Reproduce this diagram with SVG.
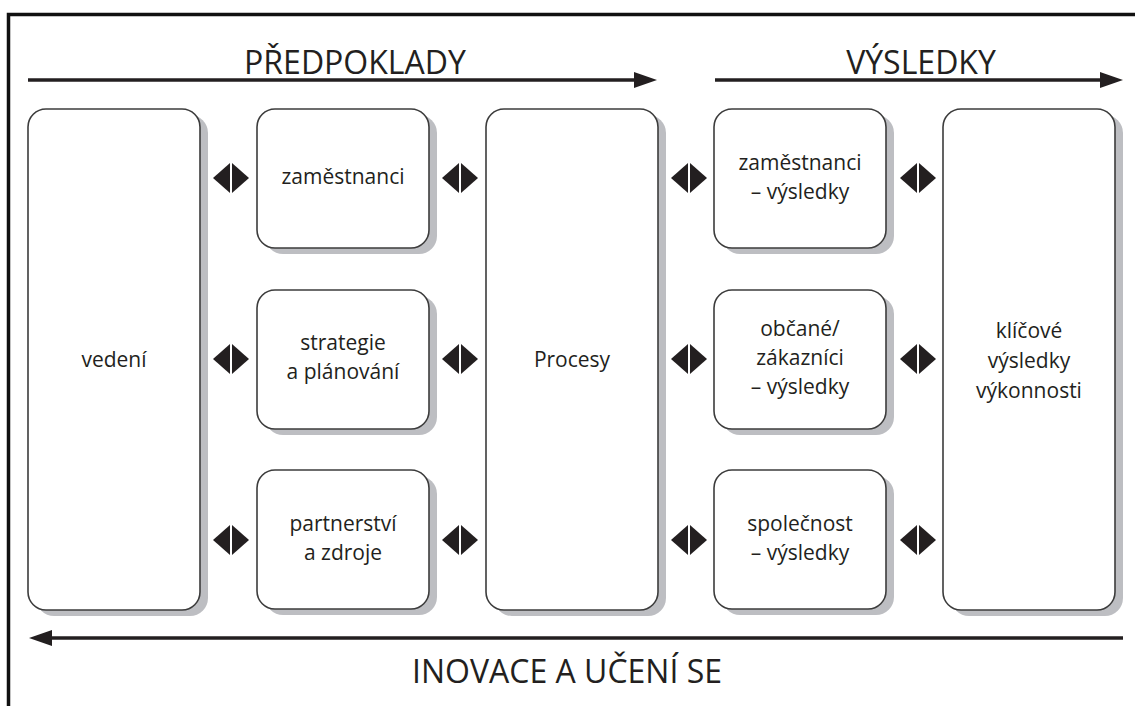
<svg xmlns="http://www.w3.org/2000/svg" width="1135" height="706" viewBox="0 0 1135 706">
<defs>
<style>
.frame{fill:none;stroke:#111;stroke-width:3.5}
.shadow{fill:#bdbec2}
.box{fill:#fff;stroke:#3c3c3c;stroke-width:1.6}
.lbl{font-family:"Open Sans","Noto Sans",sans-serif;font-size:21px;fill:#231f20;text-anchor:middle}
.hdr{font-family:"Open Sans","Noto Sans",sans-serif;font-size:32px;fill:#231f20;text-anchor:middle}
.line{stroke:#231f20;stroke-width:3.5;fill:none}
.head{fill:#231f20}
.dia{fill:#231f20}
</style>
<g id="d">
<polygon points="-18,0 -1,-15 -1,15"/>
<polygon points="1,-15 18,0 1,15"/>
</g>
</defs>
<rect width="1135" height="706" fill="#fff"/>
<path class="frame" d="M8.5,706 V14.5 H1135"/>

<g id="headers">
<text class="hdr" x="355" y="74">PŘEDPOKLADY</text>
<text class="hdr" x="921" y="74">VÝSLEDKY</text>
<text class="hdr" x="567" y="683">INOVACE A UČENÍ SE</text>
</g>

<g id="connectors">
<line class="line" x1="28" y1="80" x2="638" y2="80"/>
<polygon class="head" points="634,72 657,80 634,88"/>
<line class="line" x1="715" y1="80" x2="1103" y2="80"/>
<polygon class="head" points="1100,72 1123,80 1100,88"/>
<line class="line" x1="48" y1="638" x2="1123" y2="638"/>
<polygon class="head" points="52,630 29,638 52,646"/>
<g class="dia">
<use href="#d" x="231" y="178"/><use href="#d" x="231" y="359"/><use href="#d" x="231" y="540"/>
<use href="#d" x="460" y="178"/><use href="#d" x="460" y="359"/><use href="#d" x="460" y="540"/>
<use href="#d" x="689" y="178"/><use href="#d" x="689" y="359"/><use href="#d" x="689" y="540"/>
<use href="#d" x="918" y="178"/><use href="#d" x="918" y="359"/><use href="#d" x="918" y="540"/>
</g>
</g>

<g id="vedeni">
<rect class="shadow" x="36" y="115" width="172" height="501" rx="18"/>
<rect class="box" x="28" y="109" width="172" height="501" rx="18"/>
<text class="lbl" x="114" y="367">vedení</text>
</g>

<g id="zamestnanci">
<rect class="shadow" x="265" y="115" width="172" height="139" rx="18"/>
<rect class="box" x="257" y="109" width="172" height="139" rx="18"/>
<text class="lbl" x="343" y="184">zaměstnanci</text>
</g>

<g id="strategie">
<rect class="shadow" x="265" y="296" width="172" height="139" rx="18"/>
<rect class="box" x="257" y="290" width="172" height="139" rx="18"/>
<text class="lbl" x="343" y="350">strategie</text>
<text class="lbl" x="343" y="379">a plánování</text>
</g>

<g id="partnerstvi">
<rect class="shadow" x="265" y="476" width="172" height="139" rx="18"/>
<rect class="box" x="257" y="470" width="172" height="139" rx="18"/>
<text class="lbl" x="343" y="531">partnerství</text>
<text class="lbl" x="343" y="560">a zdroje</text>
</g>

<g id="procesy">
<rect class="shadow" x="494" y="115" width="172" height="501" rx="18"/>
<rect class="box" x="486" y="109" width="172" height="501" rx="18"/>
<text class="lbl" x="572" y="367">Procesy</text>
</g>

<g id="zamestnanci-vysledky">
<rect class="shadow" x="722" y="115" width="172" height="139" rx="18"/>
<rect class="box" x="714" y="109" width="172" height="139" rx="18"/>
<text class="lbl" x="800" y="170">zaměstnanci</text>
<text class="lbl" x="800" y="199">– výsledky</text>
</g>

<g id="obcane-vysledky">
<rect class="shadow" x="722" y="296" width="172" height="139" rx="18"/>
<rect class="box" x="714" y="290" width="172" height="139" rx="18"/>
<text class="lbl" x="800" y="336">občané/</text>
<text class="lbl" x="800" y="365">zákazníci</text>
<text class="lbl" x="800" y="394">– výsledky</text>
</g>

<g id="spolecnost-vysledky">
<rect class="shadow" x="722" y="476" width="172" height="139" rx="18"/>
<rect class="box" x="714" y="470" width="172" height="139" rx="18"/>
<text class="lbl" x="800" y="531">společnost</text>
<text class="lbl" x="800" y="560">– výsledky</text>
</g>

<g id="klicove">
<rect class="shadow" x="951" y="115" width="172" height="501" rx="18"/>
<rect class="box" x="943" y="109" width="172" height="501" rx="18"/>
<text class="lbl" x="1029" y="338">klíčové</text>
<text class="lbl" x="1029" y="368">výsledky</text>
<text class="lbl" x="1029" y="398">výkonnosti</text>
</g>
</svg>
